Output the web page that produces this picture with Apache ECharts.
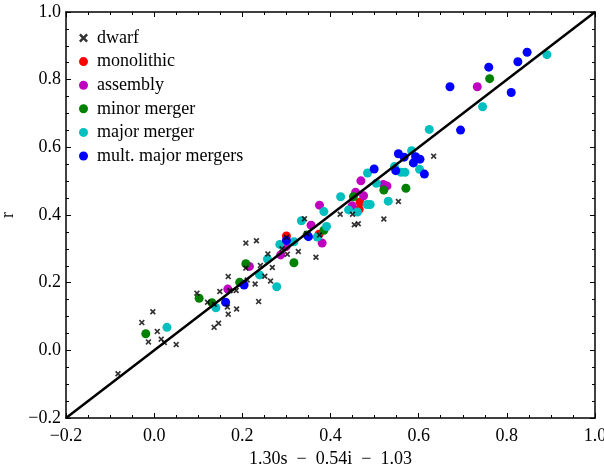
<!DOCTYPE html>
<html>
<head>
<meta charset="utf-8">
<script src="https://cdn.jsdelivr.net/npm/echarts@6/dist/echarts.min.js"></script>
<style>html,body{margin:0;padding:0;background:#fff}#c{width:604px;height:466px}</style>
</head>
<body>
<div id="c"></div>
<script>
const xTicks = [-0.2, 0.0, 0.2, 0.4, 0.6, 0.8, 1.0];
const yTicks = [-0.2, 0.0, 0.2, 0.4, 0.6, 0.8, 1.0];
const xName = '1.30s\u2002\u2212\u20020.54i\u2002\u2212\u20021.03';
const yName = 'r';
const seriesNames = ['dwarf', 'monolithic', 'assembly', 'minor merger', 'major merger', 'mult. major mergers'];
const lineEnds = [[-0.2, -0.2], [1.0, 1.0]];

const dwarf = [
  [-0.082,-0.069],[-0.028,0.082],[-0.003,0.114],[-0.013,0.025],[0.007,0.056],[0.016,0.033],
  [0.023,0.023],[0.050,0.017],[0.097,0.169],[0.121,0.142],[0.136,0.136],[0.149,0.174],
  [0.168,0.218],[0.166,0.128],[0.168,0.107],[0.146,0.080],[0.136,0.068],[0.187,0.122],
  [0.186,0.177],[0.172,0.176],[0.211,0.208],[0.229,0.196],[0.237,0.144],[0.208,0.243],
  [0.208,0.317],[0.232,0.324],[0.241,0.251],[0.251,0.219],[0.264,0.205],[0.268,0.245],
  [0.258,0.285],[0.290,0.300],[0.302,0.284],[0.300,0.334],[0.327,0.292],[0.341,0.389],
  [0.346,0.345],[0.375,0.341],[0.367,0.275],[0.422,0.402],[0.450,0.402],[0.454,0.371],
  [0.463,0.374],[0.521,0.388],[0.554,0.440],[0.634,0.574]
];
const monolithic = [[0.300,0.338],[0.374,0.343],[0.467,0.438],[0.465,0.417]];
const assembly = [
  [0.167,0.181],[0.216,0.248],[0.287,0.282],[0.299,0.307],[0.356,0.370],[0.381,0.317],
  [0.375,0.429],[0.449,0.427],[0.457,0.467],[0.475,0.457],[0.469,0.501],[0.520,0.490],
  [0.528,0.486],[0.733,0.779]
];
const minorMerger = [
  [-0.019,0.049],[0.102,0.154],[0.131,0.141],[0.194,0.201],[0.208,0.256],[0.317,0.259],
  [0.347,0.341],[0.385,0.355],[0.452,0.454],[0.521,0.474],[0.571,0.479],[0.761,0.803]
];
const majorMerger = [
  [0.029,0.068],[0.140,0.126],[0.239,0.223],[0.278,0.188],[0.257,0.270],[0.285,0.313],
  [0.317,0.321],[0.334,0.383],[0.370,0.335],[0.391,0.366],[0.385,0.410],[0.423,0.454],
  [0.441,0.415],[0.461,0.409],[0.483,0.431],[0.490,0.431],[0.484,0.524],[0.504,0.494],
  [0.531,0.441],[0.545,0.543],[0.560,0.526],[0.569,0.526],[0.584,0.590],[0.602,0.535],
  [0.624,0.653],[0.745,0.720],[0.891,0.874]
];
const multMajor = [
  [0.162,0.142],[0.204,0.193],[0.300,0.325],[0.350,0.336],[0.499,0.536],[0.548,0.531],
  [0.554,0.581],[0.567,0.571],[0.593,0.572],[0.603,0.565],[0.588,0.554],[0.613,0.521],
  [0.695,0.651],[0.671,0.779],[0.759,0.837],[0.810,0.762],[0.825,0.853],[0.846,0.881]
];

const FONT = 'Liberation Serif';
const xPath = 'path://M0,2 L2,0 L5,3 L8,0 L10,2 L7,5 L10,8 L8,10 L5,7 L2,10 L0,8 L3,5 Z';
const fmt = v => {
  const s = (Math.round(v * 10) / 10).toFixed(1);
  return s.replace('-', '\u2212');
};

function axisBase(extra) {
  return Object.assign({
    type: 'value', min: -0.2, max: 1.0, interval: 0.2,
    axisLine: { show: true, onZero: false, lineStyle: { color: '#000', width: 1.5 } },
    axisTick: { show: true, inside: true, length: 5, lineStyle: { color: '#000', width: 1 } },
    minorTick: { show: true, splitNumber: 4, length: 3, lineStyle: { color: '#000', width: 1 } },
    splitLine: { show: false },
    axisLabel: { show: false }
  }, extra);
}

const chart = echarts.init(document.getElementById('c'), null, { renderer: 'canvas' });

function circleSeries(name, data, color) {
  return {
    name: name, type: 'scatter', data: data, symbol: 'circle', symbolSize: 9,
    itemStyle: { color: color, opacity: 1 }, z: 2, silent: true
  };
}

chart.setOption({
  animation: false,
  backgroundColor: '#fff',
  grid: { left: 66, right: 9, top: 12, bottom: 48, containLabel: false, outerBoundsMode: 'none' },
  legend: {
    data: seriesNames.map(n => n === 'dwarf' ? { name: n, icon: xPath } : { name: n, icon: 'circle' }),
    orient: 'vertical', left: 74, top: 24, itemWidth: 9, itemHeight: 9, itemGap: 5.6,
    selectedMode: false,
    textStyle: { fontFamily: FONT, fontSize: 18, color: '#000', padding: [0, 0, 0, 4] }
  },
  xAxis: [
    axisBase({
      position: 'bottom',
      axisLabel: { show: true, fontFamily: FONT, fontSize: 18, color: '#000', margin: 9, formatter: fmt },
      name: xName, nameLocation: 'middle', nameGap: 20,
      nameTextStyle: { fontFamily: FONT, fontSize: 18, color: '#000' }
    }),
    axisBase({ position: 'top' })
  ],
  yAxis: [
    axisBase({
      position: 'left',
      axisLabel: { show: true, fontFamily: FONT, fontSize: 18, color: '#000', margin: 5, formatter: fmt },
      name: yName, nameLocation: 'middle', nameGap: 38, nameRotate: 90,
      nameTextStyle: { fontFamily: FONT, fontSize: 18, color: '#000' }
    }),
    axisBase({ position: 'right' })
  ],
  series: [
    circleSeries('monolithic', monolithic, '#ff0000'),
    circleSeries('assembly', assembly, '#bf00bf'),
    circleSeries('minor merger', minorMerger, '#008000'),
    circleSeries('major merger', majorMerger, '#00bfbf'),
    circleSeries('mult. major mergers', multMajor, '#0000ff'),
    {
      name: 'dwarf', type: 'scatter', data: dwarf, symbol: xPath, symbolSize: 6,
      itemStyle: { color: '#000' }, z: 3, silent: true
    },
    {
      name: 'fit', type: 'line', data: lineEnds, symbol: 'none', z: 4, silent: true,
      lineStyle: { color: '#000', width: 2.5 }
    }
  ]
});
</script>
</body>
</html>
